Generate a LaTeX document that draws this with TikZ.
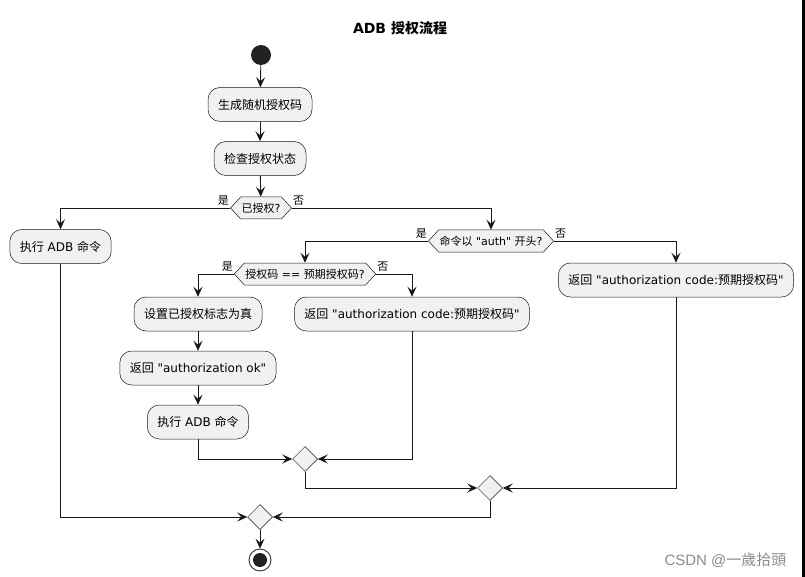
\documentclass[tikz,border=0pt]{standalone}
\usepackage{fontspec}
\setmainfont{DejaVu Sans}[Ligatures=TeXOff]
\newfontfamily\cjk{Noto Sans CJK SC}
\newfontfamily\cjktc{Noto Sans CJK TC}
\newfontfamily\wmfont{Liberation Sans}
\usetikzlibrary{arrows.meta,shapes.geometric,shapes.symbols}
\definecolor{boxfill}{HTML}{F1F1F1}
\definecolor{edge}{HTML}{181818}
\definecolor{dot}{HTML}{222222}
\begin{document}
\begin{tikzpicture}[x=1pt,y=-1pt,
 actbox/.style={draw=edge, line width=0.5pt, fill=boxfill, rounded corners=12pt, minimum height=34pt, inner xsep=10pt, inner ysep=0pt, font=\fontsize{12}{14}\selectfont},
 hexbox/.style={signal, signal to=west and east, signal pointer angle=95, draw=edge, line width=0.5pt, fill=boxfill, minimum height=22pt, inner xsep=1pt, inner ysep=0pt, font=\fontsize{11}{13}\selectfont},
 merge/.style={diamond, draw=edge, line width=0.5pt, fill=boxfill, minimum size=25pt, inner sep=0pt},
 flow/.style={draw=edge, line width=0.9pt, -{Stealth[length=10pt,width=9pt,inset=4pt]}},
 lbl/.style={font=\fontsize{11}{13}\selectfont, inner sep=1pt},
]
\useasboundingbox (0,0) rectangle (805,577);
\fill[white] (0,0) rectangle (805,577);

\node[font=\bfseries\fontsize{14}{16}\selectfont] (title) at (400,28) {ADB {\cjk 授权流程}};

\node[circle, fill=dot, minimum size=20pt, inner sep=0pt] (start) at (261,55) {};
\node[actbox] (b1) at (260,104.5) {{\cjk 生成随机授权码}};
\node[actbox] (b2) at (260,158.5) {{\cjk 检查授权状态}};
\node[hexbox] (d1) at (261,208) {{\cjk 已授权}?};
\node[actbox] (e1) at (60.5,246.5) {{\cjk 执行} ADB {\cjk 命令}};
\node[hexbox] (d2) at (491,241) {{\cjk 命令以} "auth" {\cjk 开头}?};
\node[hexbox] (d3) at (305,274) {{\cjk 授权码} == {\cjk 预期授权码}?};
\node[actbox] (r1) at (676,280) {{\cjk 返回} "authorization code:{\cjk 预期授权码}"};
\node[actbox] (s1) at (198,314) {{\cjk 设置已授权标志为真}};
\node[actbox] (r2) at (412,314) {{\cjk 返回} "authorization code:{\cjk 预期授权码}"};
\node[actbox] (s2) at (198,368) {{\cjk 返回} "authorization ok"};
\node[actbox] (s3) at (198,422) {{\cjk 执行} ADB {\cjk 命令}};
\node[merge] (m1) at (305,459) {};
\node[merge] (m2) at (490,488) {};
\node[merge] (m3) at (260,517) {};
\node[circle, draw=dot, line width=0.8pt, fill=white, minimum size=22pt, inner sep=0pt,
      path picture={\fill[dot] (path picture bounding box.center) circle (7pt);}] (stop) at (260,560) {};

\node[lbl, anchor=south east] at ([yshift=1pt]d1.west) {{\cjk 是}};
\node[lbl, anchor=south west] at ([yshift=1pt]d1.east) {{\cjk 否}};
\node[lbl, anchor=south east] at ([yshift=1pt]d2.west) {{\cjk 是}};
\node[lbl, anchor=south west] at ([yshift=1pt]d2.east) {{\cjk 否}};
\node[lbl, anchor=south east] at ([yshift=1pt]d3.west) {{\cjk 是}};
\node[lbl, anchor=south west] at ([yshift=1pt]d3.east) {{\cjk 否}};

\draw[flow] (start) -- (b1);
\draw[flow] (b1) -- (b2);
\draw[flow] (b2) -- (d1);
\draw[flow] (d1.west) -| (e1.north);
\draw[flow] (d1.east) -| (d2.north);
\draw[flow] (d2.west) -| (d3.north);
\draw[flow] (d2.east) -| (r1.north);
\draw[flow] (d3.west) -| (s1.north);
\draw[flow] (d3.east) -| (r2.north);
\draw[flow] (s1) -- (s2);
\draw[flow] (s2) -- (s3);
\draw[flow] (s3.south) |- (m1.west);
\draw[flow] (r2.south) |- (m1.east);
\draw[flow] (m1.south) |- (m2.west);
\draw[flow] (r1.south) |- (m2.east);
\draw[flow] (e1.south) |- (m3.west);
\draw[flow] (m2.south) |- (m3.east);
\draw[flow] (m3) -- (stop);

\node[text=black!45, font=\wmfont\fontsize{15}{17}\selectfont, anchor=east] (wm) at (790,560) {CSDN @{\cjktc 一歲拾頭}};
\fill[black] (802,0) rectangle (805,577);
\end{tikzpicture}
\end{document}
